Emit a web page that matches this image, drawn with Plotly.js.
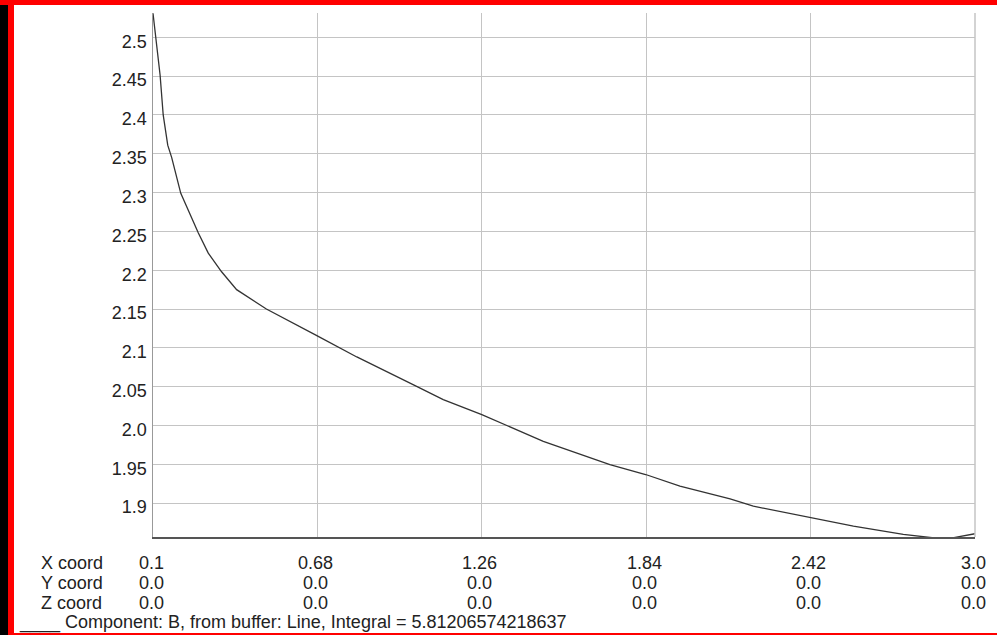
<!DOCTYPE html>
<html>
<head>
<meta charset="utf-8">
<script src="https://cdn.plot.ly/plotly-3.0.1.min.js"></script>
<style>
  html, body { margin: 0; padding: 0; background: #fff; }
  #wrap { position: relative; width: 997px; height: 635px; overflow: hidden; }
  #chart { position: absolute; left: 0; top: 0; width: 997px; height: 635px; }
  .fr { position: absolute; pointer-events: none; }
</style>
</head>
<body>
<div id="wrap">
  <div id="chart"></div>
  <div class="fr" style="left:0;top:0;width:8px;height:635px;background:#000;"></div>
  <div class="fr" style="left:8px;top:0;width:6px;height:635px;background:#f00;"></div>
  <div class="fr" style="left:0;top:0;width:997px;height:5px;background:#f00;"></div>
  <div class="fr" style="left:8px;top:633px;width:989px;height:2px;background:#f00;"></div>
</div>
<script>
// curve data
const xs = [0.1, 0.125, 0.136, 0.152, 0.166, 0.198, 0.237, 0.26, 0.295, 0.342, 0.395, 0.442, 0.5,
            0.678, 0.76, 0.819, 1.03, 1.124, 1.26, 1.348, 1.477, 1.712, 1.838, 1.959, 2.136,
            2.218, 2.423, 2.571, 2.747, 2.853, 2.923, 3.0];
const ys = [2.531, 2.4515, 2.400, 2.361, 2.345, 2.299, 2.267, 2.248, 2.222, 2.198, 2.175, 2.164, 2.150,
            2.1157, 2.0998, 2.0883, 2.0505, 2.0334, 2.014, 2.000, 1.9797, 1.9497, 1.9369, 1.9218, 1.9056,
            1.8961, 1.8811, 1.8703, 1.8597, 1.8554, 1.8554, 1.8606];

// table under the chart
const xCoords = [0.1, 0.68, 1.26, 1.84, 2.42, 3.0];
const xLabels = ["0.1", "0.68", "1.26", "1.84", "2.42", "3.0"];
const yLabels = ["0.0", "0.0", "0.0", "0.0", "0.0", "0.0"];
const zLabels = ["0.0", "0.0", "0.0", "0.0", "0.0", "0.0"];
const rowNames = ["X coord", "Y coord", "Z coord"];
const legendText = "____ Component: B, from buffer: Line, Integral = 5.81206574218637";

// y ticks
const yTickVals = [1.9, 1.95, 2.0, 2.05, 2.1, 2.15, 2.2, 2.25, 2.3, 2.35, 2.4, 2.45, 2.5];
const yTickText = ["1.9", "1.95", "2.0", "2.05", "2.1", "2.15", "2.2", "2.25", "2.3", "2.35", "2.4", "2.45", "2.5"];

const FONT = {family: "Liberation Sans, Arial, sans-serif", size: 18, color: "#222"};
const rowShift = [-25.5, -45.5, -65.5];
const rows = [xLabels, yLabels, zLabels];

const annotations = [];
rowNames.forEach((name, r) => {
  annotations.push({xref: "paper", yref: "paper", x: 0, y: 0, xanchor: "left", yanchor: "middle",
    xshift: -114, yshift: rowShift[r], text: name, showarrow: false, font: FONT});
  xCoords.forEach((xv, i) => {
    annotations.push({xref: "x", yref: "paper", x: xv, y: 0, xanchor: "center", yanchor: "middle",
      xshift: -2, yshift: rowShift[r], text: rows[r][i], showarrow: false, font: FONT});
  });
});
annotations.push({xref: "paper", yref: "paper", x: 0, y: 0, xanchor: "left", yanchor: "middle",
  xshift: -136, yshift: -85.5, text: legendText, showarrow: false, font: FONT});

const trace = {x: xs, y: ys, type: "scatter", mode: "lines",
  line: {color: "#333", width: 1.3}, hoverinfo: "skip"};

const layout = {
  width: 997, height: 635,
  margin: {l: 153, r: 22, t: 13, b: 97.5},
  paper_bgcolor: "#fff", plot_bgcolor: "#fff",
  showlegend: false,
  font: FONT,
  xaxis: {range: [0.1, 3.0], tickmode: "array", tickvals: xCoords, showticklabels: false,
    showgrid: true, gridcolor: "#c4c4c4", gridwidth: 1, zeroline: false,
    showline: true, linecolor: "#555", linewidth: 1.5, ticks: ""},
  yaxis: {range: [1.8564, 2.5313], tickmode: "array", tickvals: yTickVals, ticktext: yTickText,
    showgrid: true, gridcolor: "#c4c4c4", gridwidth: 1, zeroline: false,
    showline: true, linecolor: "#999", linewidth: 1.5, ticks: "",
    ticklabelstandoff: 1, ticklabelshift: 4, tickfont: FONT},
  shapes: [{type: "line", xref: "paper", yref: "paper", x0: 1, x1: 1, y0: 0, y1: 1,
    line: {color: "#c4c4c4", width: 1.5}}],
  annotations: annotations
};

Plotly.newPlot("chart", [trace], layout, {displayModeBar: false, staticPlot: true});
</script>
</body>
</html>
